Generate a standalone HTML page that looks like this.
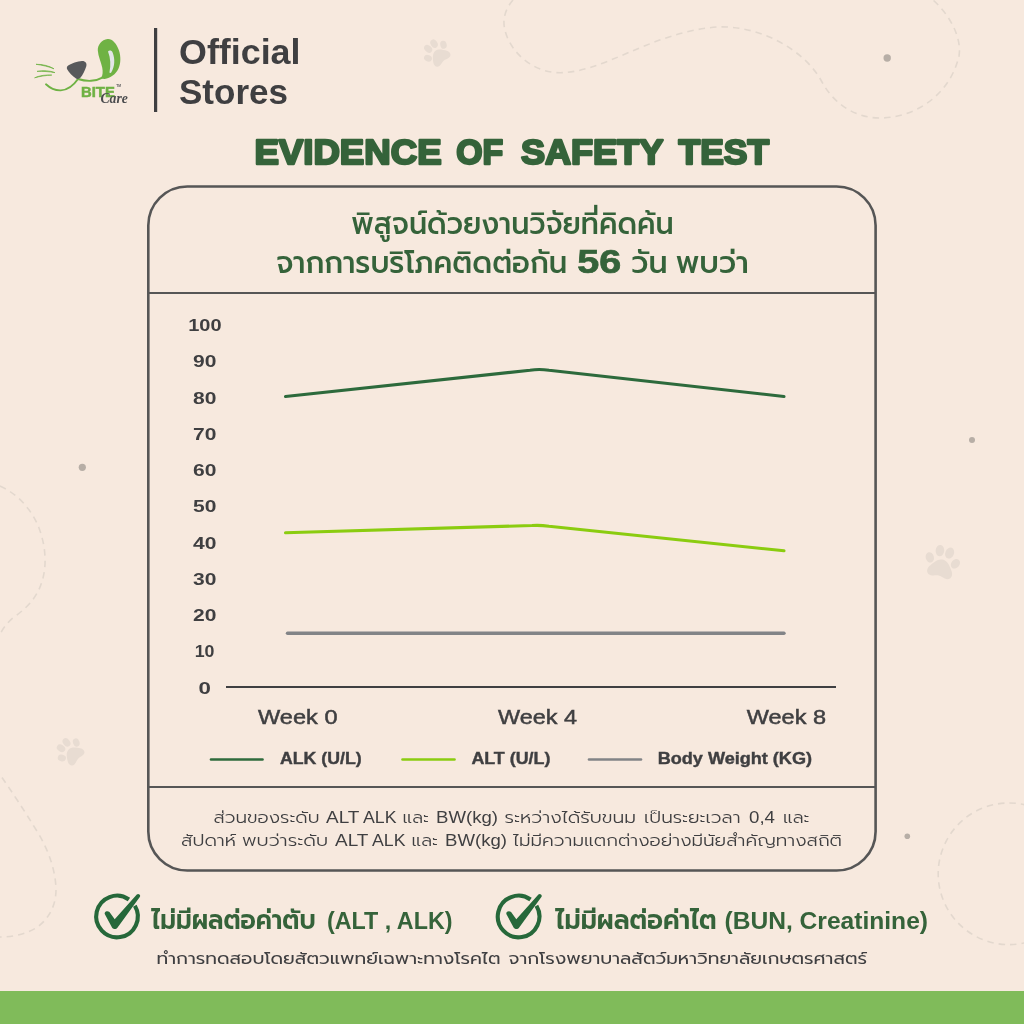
<!DOCTYPE html>
<html lang="th">
<head>
<meta charset="utf-8">
<title>Evidence of Safety Test</title>
<style>
html,body{margin:0;padding:0;background:#f7e9de;}
body{width:1024px;height:1024px;overflow:hidden;}
svg{display:block;}
.lat{font-family:"Liberation Sans","Prompt","Kanit","Noto Sans Thai","Loma",sans-serif;}
.th{font-family:"Liberation Sans","Prompt","Kanit","Noto Sans Thai","Loma",sans-serif;}
</style>
</head>
<body>
<svg width="1024" height="1024" viewBox="0 0 1024 1024">
<rect x="0" y="0" width="1024" height="1024" fill="#f7e9de"/>

<!-- BG-DECOR -->
<defs>
<g id="paw">
<path d="M0 -3.5 C5 -3.5 8.5 1.5 11.5 6 C14 10 12.5 14.5 8 14.5 C5 14.5 2.8 13 0 13 C-2.8 13 -5 14.5 -8 14.5 C-12.5 14.5 -14 10 -11.5 6 C-8.500 1.5 -5 -3.5 0 -3.5 Z"/>
<ellipse cx="-13.2" cy="-2.5" rx="4.1" ry="5.2" transform="rotate(-28 -13.2 -2.5)"/>
<ellipse cx="-5" cy="-11.5" rx="4.3" ry="5.7" transform="rotate(-8 -5 -11.5)"/>
<ellipse cx="5" cy="-11.5" rx="4.3" ry="5.7" transform="rotate(8 5 -11.5)"/>
<ellipse cx="13.2" cy="-2.5" rx="4.1" ry="5.2" transform="rotate(28 13.2 -2.5)"/>
</g>
</defs>
<g fill="none" stroke="#e3d8ce" stroke-width="1.6" stroke-dasharray="6.5 5" stroke-linecap="butt">
<path d="M513 0 C506 8 502.500 18 504.500 28 C508 48 528 70 555 72.500 C600 76 650 32 717 27 C760 25 805 50 822 82 C834 104 855 118 880 118 C915 118 950 95 959 56 C962 38 950 15 933 0"/>
<path d="M0 486 C18 494 32 510 39 528 C45 544 47 562 43 578 C39 594 30 606 14 617 C8 622 3 628 0 634.500"/>
<path d="M2 777.500 C12 792 24 810 38.700 834 C48 850 55 868 56 888 C56.500 906 48 920 36 928 C24 935 10 937 0 937"/>
<circle cx="1009" cy="873.8" r="70.8"/>
</g>
<g fill="#e8dcd2">
<use href="#paw" transform="translate(437 53) rotate(-41) scale(0.78)"/>
<use href="#paw" transform="translate(70.500 751.600) rotate(-47) scale(0.8)"/>
<use href="#paw" transform="translate(942 563) rotate(14) scale(1)"/>
</g>
<g fill="#b7aea6">
<circle cx="887.200" cy="58" r="3.7"/>
<circle cx="82.300" cy="467.300" r="3.6"/>
<circle cx="972" cy="440" r="3"/>
<circle cx="907.300" cy="836.300" r="2.8"/>
</g>

<!-- bottom bar -->
<rect x="0" y="991" width="1024" height="33" fill="#80bb5a"/>

<!-- LOGO -->
<g id="logo">
<path d="M107.7 39 C112 38.6 116.6 43.5 118.9 50.3 C121 56.5 120.9 63.5 118.4 68.8 C115.8 74.3 110.6 78 104.6 79 C103.2 79.2 101.8 78.6 101.2 77.6 C102.8 75.4 103 72 102.2 67.6 C101.2 62 98.2 57 97.8 50.6 C97.5 45 101.5 39.6 107.7 39 Z" fill="#6fb244"/>
<path d="M108 51.4 C109.2 50 111.8 50.4 112.6 52.4 C115.2 58.8 114.9 66.4 111.2 72.6 C110.700 73.4 109.3 73 109.5 72 C110.9 65.4 110.600 58 108 51.4 Z" fill="#e3e6e8"/>
<path d="M46 84.3 C50.5 88.6 55.5 90.6 60.8 90.4 C67.5 90 73.4 85.6 78 79" fill="none" stroke="#6fb244" stroke-width="1.9" stroke-linecap="round"/>
<path d="M78 79 C82.5 80.4 87 81 91 80.8 C95.6 80.6 99.4 79.4 103 77.4" fill="none" stroke="#6fb244" stroke-width="1.9" stroke-linecap="round"/>
<path d="M68.2 65.4 C71.5 63.4 77.5 61.4 82 61 C85.2 60.8 87.2 63.2 86.3 66.2 C85.2 70 82.6 75 80.4 77.8 C79.2 79.2 77.4 79.2 76 78.4 C72.6 76.4 68.8 72.6 67.3 69.6 C66.5 68 66.8 66.3 68.2 65.4 Z" fill="#58595b"/>
<path d="M36 64.3 C42.5 64.2 49 65.8 54 68.8 C48.5 66.6 42.5 65.2 36 64.3 Z" fill="#6fb244" stroke="#6fb244" stroke-width="0.7" stroke-linejoin="round"/>
<path d="M37 71.4 C43 70 49.5 70.6 55 72.6 C49 71.6 43 71.2 37 71.4 Z" fill="#6fb244" stroke="#6fb244" stroke-width="0.7" stroke-linejoin="round"/>
<path d="M34.6 77.8 C40 75.4 46 74.6 51.8 75.1 C46 75.4 40.2 76.2 34.6 77.8 Z" fill="#6fb244" stroke="#6fb244" stroke-width="0.7" stroke-linejoin="round"/>
<text x="81" y="97.4" font-family='"Liberation Sans",sans-serif' font-weight="700" font-size="14.6" fill="#6fb244" stroke="#6fb244" stroke-width="0.5" textLength="33.8" lengthAdjust="spacingAndGlyphs">BITE</text>
<text x="116.2" y="86.6" font-family='"Liberation Sans",sans-serif' font-weight="700" font-size="3.2" fill="#58595b" textLength="4.8" lengthAdjust="spacingAndGlyphs">TM</text>
<text x="100.4" y="103" font-family='"Liberation Serif",serif' font-style="italic" font-weight="700" font-size="14" fill="#4b4c4e" textLength="27.4" lengthAdjust="spacingAndGlyphs">Care</text>
</g>

<!-- header -->
<rect x="154" y="28" width="3.2" height="84" fill="#3f3f41"/>
<g class="lat" font-weight="700" font-size="35" fill="#3f3f41">
<text x="179" y="63.5" textLength="121.5" lengthAdjust="spacingAndGlyphs">Official</text>
<text x="179" y="104.3" textLength="109" lengthAdjust="spacingAndGlyphs">Stores</text>
</g>

<!-- title -->
<text class="lat" y="164.4" font-weight="700" font-size="35.6" fill="#35633a" stroke="#35633a" stroke-width="2.4" stroke-linejoin="round"><tspan x="254.4" textLength="187.2" lengthAdjust="spacingAndGlyphs">EVIDENCE</tspan> <tspan x="456.2" textLength="46.9" lengthAdjust="spacingAndGlyphs">OF</tspan> <tspan x="520.9" textLength="141.7" lengthAdjust="spacingAndGlyphs">SAFETY</tspan> <tspan x="678.6" textLength="90.5" lengthAdjust="spacingAndGlyphs">TEST</tspan></text>

<!-- box -->
<rect x="148.300" y="186.5" width="727.300" height="684" rx="39" ry="39" fill="none" stroke="#565656" stroke-width="2.6"/>
<line x1="148.5" y1="293" x2="875.5" y2="293" stroke="#565656" stroke-width="2.2"/>
<line x1="148.5" y1="787" x2="875.5" y2="787" stroke="#565656" stroke-width="2.2"/>

<!-- subtitle -->
<g class="th" fill="#35633a" font-size="30" font-weight="500">
<text x="351.3" y="234.3" textLength="322.3" lengthAdjust="spacingAndGlyphs">พิสูจน์ด้วยงานวิจัยที่คิดค้น</text>
<text x="276.2" y="272.7" textLength="291" lengthAdjust="spacingAndGlyphs">จากการบริโภคติดต่อกัน</text>
<text x="577.2" y="272.7" font-weight="700" font-size="33" stroke="#35633a" stroke-width="0.7" textLength="44" lengthAdjust="spacingAndGlyphs">56</text>
<text x="631.2" y="272.7" textLength="117.5" lengthAdjust="spacingAndGlyphs">วัน พบว่า</text>
</g>

<!-- chart -->
<g class="lat" font-weight="700" font-size="17.4" fill="#3f3f41">
<text x="188.2" y="331" textLength="33.4" lengthAdjust="spacingAndGlyphs">100</text>
<text x="193.0" y="367.2" textLength="23.4" lengthAdjust="spacingAndGlyphs">90</text>
<text x="193.0" y="403.5" textLength="23.4" lengthAdjust="spacingAndGlyphs">80</text>
<text x="193.0" y="439.7" textLength="23.4" lengthAdjust="spacingAndGlyphs">70</text>
<text x="193.0" y="476" textLength="23.4" lengthAdjust="spacingAndGlyphs">60</text>
<text x="193.0" y="512.2" textLength="23.4" lengthAdjust="spacingAndGlyphs">50</text>
<text x="193.0" y="548.5" textLength="23.4" lengthAdjust="spacingAndGlyphs">40</text>
<text x="193.0" y="584.7" textLength="23.4" lengthAdjust="spacingAndGlyphs">30</text>
<text x="193.0" y="621" textLength="23.4" lengthAdjust="spacingAndGlyphs">20</text>
<text x="194.7" y="657.2" textLength="19.8" lengthAdjust="spacingAndGlyphs">10</text>
<text x="198.5" y="693.5" textLength="12.4" lengthAdjust="spacingAndGlyphs">0</text>
</g>
<line x1="226" y1="687" x2="836" y2="687" stroke="#3f3f41" stroke-width="2.1"/>
<path d="M285.5 396.5 L530 370.2 Q539.5 368.8 549 370.300 L784 396.5" fill="none" stroke="#2d6a3c" stroke-width="3.1" stroke-linecap="round" stroke-linejoin="round"/>
<path d="M285.5 532.8 L532 525.5 Q540.5 525 549 526.200 L784 550.8" fill="none" stroke="#8bcc10" stroke-width="3.1" stroke-linecap="round" stroke-linejoin="round"/>
<line x1="287.5" y1="633.2" x2="784" y2="633.2" stroke="#828487" stroke-width="3.4" stroke-linecap="round"/>

<g class="lat" font-size="20.5" fill="#3f3f41" stroke="#3f3f41" stroke-width="0.5">
<text x="258" y="724.4" textLength="79.5" lengthAdjust="spacingAndGlyphs">Week 0</text>
<text x="498" y="724.4" textLength="79" lengthAdjust="spacingAndGlyphs">Week 4</text>
<text x="746.8" y="724.4" textLength="79.2" lengthAdjust="spacingAndGlyphs">Week 8</text>
</g>

<!-- legend -->
<line x1="211" y1="759.5" x2="262.5" y2="759.5" stroke="#2f6b3c" stroke-width="2.6" stroke-linecap="round"/>
<line x1="402.5" y1="759.5" x2="454.5" y2="759.5" stroke="#8bcc10" stroke-width="2.6" stroke-linecap="round"/>
<line x1="589" y1="759.5" x2="641" y2="759.5" stroke="#828487" stroke-width="2.6" stroke-linecap="round"/>
<g class="lat" font-weight="700" font-size="16" fill="#3f3f41" stroke="#3f3f41" stroke-width="0.4">
<text x="280" y="764.2" textLength="81.6" lengthAdjust="spacingAndGlyphs">ALK (U/L)</text>
<text x="471.4" y="764.2" textLength="79" lengthAdjust="spacingAndGlyphs">ALT (U/L)</text>
<text x="657.7" y="764.2" textLength="154.3" lengthAdjust="spacingAndGlyphs">Body Weight (KG)</text>
</g>

<!-- footnote -->
<g class="th" fill="#3f3f41" font-size="16.5" font-weight="300">
<text y="823"><tspan x="213.5" textLength="106" lengthAdjust="spacingAndGlyphs">ส่วนของระดับ</tspan> <tspan x="326" textLength="33" lengthAdjust="spacingAndGlyphs">ALT</tspan> <tspan x="363" textLength="33.5" lengthAdjust="spacingAndGlyphs">ALK</tspan> <tspan x="402.5" textLength="26.5" lengthAdjust="spacingAndGlyphs">และ</tspan> <tspan x="436" textLength="62" lengthAdjust="spacingAndGlyphs">BW(kg)</tspan> <tspan x="504.5" textLength="131.5" lengthAdjust="spacingAndGlyphs">ระหว่างได้รับขนม</tspan> <tspan x="644" textLength="96.5" lengthAdjust="spacingAndGlyphs">เป็นระยะเวลา</tspan> <tspan x="749" textLength="26" lengthAdjust="spacingAndGlyphs">0,4</tspan> <tspan x="783" textLength="26.5" lengthAdjust="spacingAndGlyphs">และ</tspan></text>
<text y="845.5"><tspan x="181" textLength="55" lengthAdjust="spacingAndGlyphs">สัปดาห์</tspan> <tspan x="242" textLength="86" lengthAdjust="spacingAndGlyphs">พบว่าระดับ</tspan> <tspan x="335" textLength="33" lengthAdjust="spacingAndGlyphs">ALT</tspan> <tspan x="372" textLength="33.5" lengthAdjust="spacingAndGlyphs">ALK</tspan> <tspan x="411.5" textLength="26.5" lengthAdjust="spacingAndGlyphs">และ</tspan> <tspan x="445" textLength="62" lengthAdjust="spacingAndGlyphs">BW(kg)</tspan> <tspan x="513" textLength="329" lengthAdjust="spacingAndGlyphs">ไม่มีความแตกต่างอย่างมีนัยสำคัญทางสถิติ</tspan></text>
</g>

<!-- checks -->
<defs>
<g id="chk">
<path d="M134.83 905.79 A20.8 20.8 0 1 1 128.93 899.46" fill="none" stroke="#26683a" stroke-width="4.1" stroke-linecap="butt"/>
<path d="M105 914.6 C104 912.6 105.6 911.2 107.4 911.3 C108.8 911.3 109.6 912 110.2 913 L114.7 919.2 L136.8 894.6 C137.6 893.8 138.6 893.8 139.4 894.5 C140.3 895.2 140.4 896.2 139.8 897 L117.6 927.4 C116.2 929.4 113.4 929.6 112 927.5 Z" fill="#26683a"/>
</g>
</defs>
<use href="#chk"/>
<use href="#chk" transform="translate(401.6 0)"/>
<g class="th" fill="#35633a" font-weight="600" font-size="27.5">
<text x="151.6" y="929" textLength="164" lengthAdjust="spacingAndGlyphs">ไม่มีผลต่อค่าตับ</text>
<text x="555.6" y="929" textLength="161" lengthAdjust="spacingAndGlyphs">ไม่มีผลต่อค่าไต</text>
</g>
<g class="lat" fill="#35633a" font-weight="700" font-size="24">
<text x="327" y="928.5" textLength="125.5" lengthAdjust="spacingAndGlyphs">(ALT , ALK)</text>
<text x="724.5" y="928.5" textLength="203.5" lengthAdjust="spacingAndGlyphs">(BUN, Creatinine)</text>
</g>
<text class="th" y="963.5" fill="#3f3f41" font-size="17"><tspan x="156.5" textLength="344" lengthAdjust="spacingAndGlyphs">ทำการทดสอบโดยสัตวแพทย์เฉพาะทางโรคไต</tspan> <tspan x="508.5" textLength="358.5" lengthAdjust="spacingAndGlyphs">จากโรงพยาบาลสัตว์มหาวิทยาลัยเกษตรศาสตร์</tspan></text>
</svg>
</body>
</html>
